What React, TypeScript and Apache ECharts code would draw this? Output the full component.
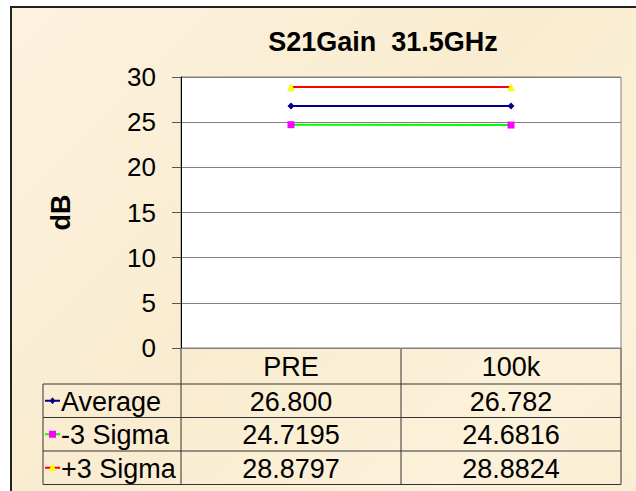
import React, { useEffect, useRef } from 'react';
import * as echarts from 'echarts';

const chartTitle = 'S21Gain  31.5GHz';
const yAxisName = 'dB';
const categories = ['PRE', '100k'];
const seriesNames = ['Average', '-3 Sigma', '+3 Sigma'];
const average = [26.8, 26.782];
const minus3Sigma = [24.7195, 24.6816];
const plus3Sigma = [28.8797, 28.8824];
const tableDecimals = [3, 4, 4];
const yMin = 0;
const yMax = 30;
const yInterval = 5;

const lineColors = ['#000080', '#00FF00', '#FF0000'];
const markerColors = ['#000080', '#FF00FF', '#FFFF00'];
const markerShapes = ['diamond', 'rect', 'triangle'];
const markerSizes = [7, 7, 8];

const FONT = 'Arial, "Liberation Sans", sans-serif';

export default function App() {
  const ref = useRef<HTMLDivElement>(null);

  useEffect(() => {
    document.body.style.margin = '0';
    if (!ref.current) return;
    const chart = echarts.init(ref.current, null, { renderer: 'svg' });
    const seriesData = [average, minus3Sigma, plus3Sigma];

    chart.setOption({
      animation: false,
      backgroundColor: 'transparent',
      grid: {
        left: 181,
        right: 15,
        top: 77,
        bottom: 143,
        show: true,
        backgroundColor: '#ffffff',
        borderColor: '#808080',
        borderWidth: 1,
      },
      xAxis: {
        type: 'category',
        data: categories,
        boundaryGap: true,
        axisLine: { show: true, lineStyle: { color: '#808080', width: 1 } },
        axisTick: { show: false },
        axisLabel: {
          show: true,
          fontSize: 27,
          fontFamily: FONT,
          color: '#000',
          margin: 5,
          lineHeight: 27,
        },
        splitLine: { show: false },
      },
      yAxis: {
        type: 'value',
        min: yMin,
        max: yMax,
        interval: yInterval,
        name: yAxisName,
        nameLocation: 'middle',
        nameGap: 107,
        nameTextStyle: { fontSize: 27, fontWeight: 'bold', fontFamily: FONT, color: '#000' },
        axisLine: { show: true, lineStyle: { color: '#000', width: 1 } },
        axisTick: { show: true, inside: false, length: 9, lineStyle: { color: '#555' } },
        axisLabel: { fontSize: 26, fontFamily: FONT, color: '#000', margin: 25 },
        splitLine: { show: true, lineStyle: { color: '#808080', width: 1 } },
      },
      series: seriesNames.map((name, i) => ({
        name,
        type: 'line',
        data: seriesData[i],
        symbol: markerShapes[i],
        symbolSize: markerSizes[i],
        showSymbol: true,
        lineStyle: { color: lineColors[i], width: 2 },
        itemStyle: { color: markerColors[i] },
        z: 3 + (i === 0 ? 1 : 0),
      })),
    });

    // Build the data table under the chart from the chart's own scale positions
    const centers = categories.map((c) => chart.convertToPixel({ xAxisIndex: 0 }, c) as number);
    const zeroY = chart.convertToPixel({ yAxisIndex: 0 }, yMin) as number;
    const half = (centers[1] - centers[0]) / 2;
    const bounds = [centers[0] - half, centers[0] + half, centers[1] + half];
    const catRowBottom = zeroY + 36;
    const rowH = 33.5;
    const tableLeft = 43;
    const keyX0 = 45;
    const keyX1 = 60;
    const lineCol = '#333';
    const graphic: any[] = [];

    graphic.push({
      type: 'text',
      x: (bounds[0] + bounds[2]) / 2 - 18,
      y: 42,
      style: { text: chartTitle, font: `bold 27px ${FONT}`, fill: '#000', textAlign: 'center', textVerticalAlign: 'middle' },
    });

    bounds.forEach((bx) => {
      graphic.push({
        type: 'line',
        shape: { x1: bx, y1: zeroY, x2: bx, y2: catRowBottom + rowH * 3 },
        style: { stroke: lineCol, lineWidth: 1 },
      });
    });
    graphic.push({
      type: 'line',
      shape: { x1: tableLeft, y1: catRowBottom, x2: tableLeft, y2: catRowBottom + rowH * 3 },
      style: { stroke: lineCol, lineWidth: 1 },
    });
    for (let r = 0; r <= 3; r++) {
      const y = catRowBottom + rowH * r;
      graphic.push({
        type: 'line',
        shape: { x1: tableLeft, y1: y, x2: bounds[2], y2: y },
        style: { stroke: lineCol, lineWidth: 1 },
      });
    }

    seriesNames.forEach((name, i) => {
      const cy = catRowBottom + rowH * i + rowH / 2;
      graphic.push({
        type: 'line',
        shape: { x1: keyX0, y1: cy, x2: keyX1, y2: cy },
        style: { stroke: lineColors[i], lineWidth: 2 },
      });
      const mx = (keyX0 + keyX1) / 2;
      const s = markerSizes[i] / 2;
      let pts: number[][];
      if (markerShapes[i] === 'diamond') pts = [[mx, cy - s], [mx + s * 0.8, cy], [mx, cy + s], [mx - s * 0.8, cy]];
      else if (markerShapes[i] === 'rect') pts = [[mx - s, cy - s], [mx + s, cy - s], [mx + s, cy + s], [mx - s, cy + s]];
      else pts = [[mx, cy - s], [mx + s, cy + s * 0.8], [mx - s, cy + s * 0.8]];
      graphic.push({ type: 'polygon', shape: { points: pts }, style: { fill: markerColors[i] } });
      graphic.push({
        type: 'text',
        x: 61,
        y: cy + 1,
        style: { text: name, font: `27px ${FONT}`, fill: '#000', textAlign: 'left', textVerticalAlign: 'middle' },
      });
      seriesData[i].forEach((v, j) => {
        graphic.push({
          type: 'text',
          x: centers[j],
          y: cy + 1,
          style: {
            text: v.toFixed(tableDecimals[i]),
            font: `27px ${FONT}`,
            fill: '#000',
            textAlign: 'center',
            textVerticalAlign: 'middle',
          },
        });
      });
    });

    chart.setOption({ graphic });

    return () => chart.dispose();
  }, []);

  return (
    <div style={{ position: 'relative', width: 636, height: 491, background: '#ffffff', overflow: 'hidden' }}>
      <div
        style={{
          position: 'absolute',
          left: 10,
          top: 6,
          width: 700,
          height: 600,
          background: 'linear-gradient(135deg, #FCF2DE 0%, #F9ECD0 40%, #FCF1DA 70%, #F8EACD 100%)',
          borderLeft: '2px solid #222',
          borderTop: '2px solid #222',
        }}
      />
      <div ref={ref} style={{ position: 'absolute', left: 0, top: 0, width: 636, height: 491 }} />
    </div>
  );
}
